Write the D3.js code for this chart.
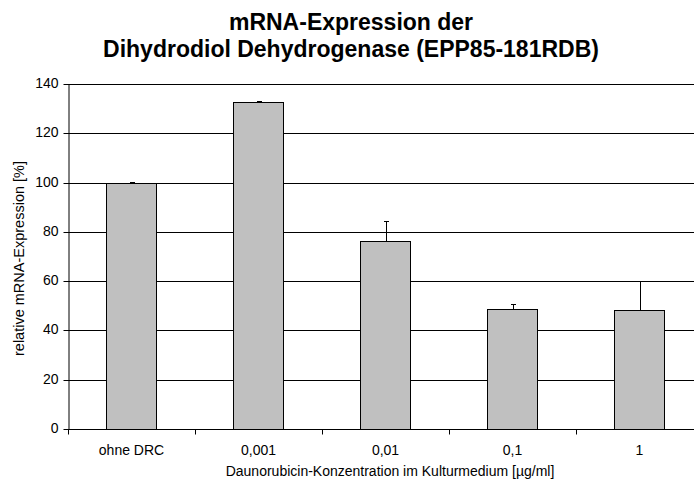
<!DOCTYPE html>
<html>
<head>
<meta charset="utf-8">
<script src="https://cdn.jsdelivr.net/npm/d3@7"></script>
<style>
  html, body { margin: 0; padding: 0; background: #fff; }
  svg { display: block; font-family: "Liberation Sans", Arial, sans-serif; }
</style>
</head>
<body>
<svg id="chart" width="694" height="479"></svg>
<script>
// Relative mRNA expression of dihydrodiol dehydrogenase by daunorubicin concentration
const categories = ["ohne DRC", "0,001", "0,01", "0,1", "1"];
const expression = [100, 132.6, 76.4, 48.7, 48.4];
const errorUp = [0.3, 0.6, 8.1, 1.9, 11.8];
const yTicks = [0, 20, 40, 60, 80, 100, 120, 140];

const titleLines = ["mRNA-Expression der", "Dihydrodiol Dehydrogenase (EPP85-181RDB)"];
const yTitle = "relative mRNA-Expression [%]";
const xTitle = "Daunorubicin-Konzentration im Kulturmedium [µg/ml]";

const svg = d3.select("#chart");
const margin = { left: 68, top: 84 };
const plotW = 635, plotH = 345;
const labelSize = 14;

const x = d3.scaleBand().domain(categories).range([margin.left, margin.left + plotW])
  .paddingInner(0.606).paddingOuter(0.303);
const y = d3.scaleLinear().domain([0, 140]).range([margin.top + plotH, margin.top]);

// horizontal gridlines
svg.append("g").selectAll("line").data(yTicks.filter(d => d > 0)).join("line")
  .attr("x1", margin.left).attr("x2", margin.left + plotW)
  .attr("y1", d => Math.round(y(d)) + 0.5).attr("y2", d => Math.round(y(d)) + 0.5)
  .attr("stroke", "#000").attr("stroke-width", 1);

// bars
svg.append("g").selectAll("rect").data(categories).join("rect")
  .attr("x", d => Math.round(x(d)) + 0.5)
  .attr("y", (d, i) => Math.round(y(expression[i])) + 0.5)
  .attr("width", Math.round(x.bandwidth()))
  .attr("height", (d, i) => Math.round(y(0)) - Math.round(y(expression[i])))
  .attr("fill", "#c0c0c0").attr("stroke", "#000").attr("stroke-width", 1);

// error bars (upper half only)
const eb = svg.append("g").attr("stroke", "#000").attr("stroke-width", 1);
categories.forEach((c, i) => {
  const cx = Math.round(x(c) + x.bandwidth() / 2) + 0.5;
  const top = Math.round(y(expression[i] + errorUp[i])) + 0.5;
  eb.append("line").attr("x1", cx).attr("x2", cx)
    .attr("y1", Math.round(y(expression[i])) + 0.5).attr("y2", top);
  eb.append("line").attr("x1", cx - 2.5).attr("x2", cx + 2.5).attr("y1", top).attr("y2", top);
});

// y axis
const yAxis = svg.append("g").attr("transform", `translate(${margin.left + 0.5},0)`)
  .call(d3.axisLeft(y).tickValues(yTicks).tickSize(5).tickSizeOuter(0).tickPadding(5));
yAxis.selectAll("line, path").attr("stroke", "#000");
yAxis.selectAll("text").attr("font-size", labelSize)
  .attr("font-family", "Liberation Sans, Arial, sans-serif").attr("fill", "#000");
yAxis.selectAll(".tick line").attr("transform", "translate(0,0.5)");
yAxis.selectAll(".tick").attr("transform", d => `translate(0,${Math.round(y(d))})`);

// x axis: ticks between categories
const xg = svg.append("g");
const base = Math.round(y(0)) + 0.5;
xg.append("line").attr("x1", margin.left).attr("x2", margin.left + plotW)
  .attr("y1", base).attr("y2", base).attr("stroke", "#000");
const bounds = d3.range(categories.length + 1).map(i => margin.left + i * x.step());
xg.selectAll("line.tk").data(bounds).join("line").attr("class", "tk")
  .attr("x1", d => Math.round(d) + 0.5).attr("x2", d => Math.round(d) + 0.5)
  .attr("y1", base).attr("y2", base + 5).attr("stroke", "#000");
xg.selectAll("text").data(categories).join("text")
  .attr("x", d => x(d) + x.bandwidth() / 2).attr("y", 455)
  .attr("text-anchor", "middle").attr("font-size", labelSize).text(d => d);

// axis titles
svg.append("text")
  .attr("transform", `translate(24,${margin.top + plotH / 2 + 2}) rotate(-90)`)
  .attr("text-anchor", "middle").attr("font-size", 14.5).text(yTitle);
svg.append("text").attr("x", 390).attr("y", 476)
  .attr("text-anchor", "middle").attr("font-size", labelSize).text(xTitle);

// chart title
svg.append("g").selectAll("text").data(titleLines).join("text")
  .attr("x", 351).attr("y", (d, i) => 30 + i * 27)
  .attr("text-anchor", "middle").attr("font-size", 23).attr("font-weight", "bold").text(d => d);
</script>
</body>
</html>
